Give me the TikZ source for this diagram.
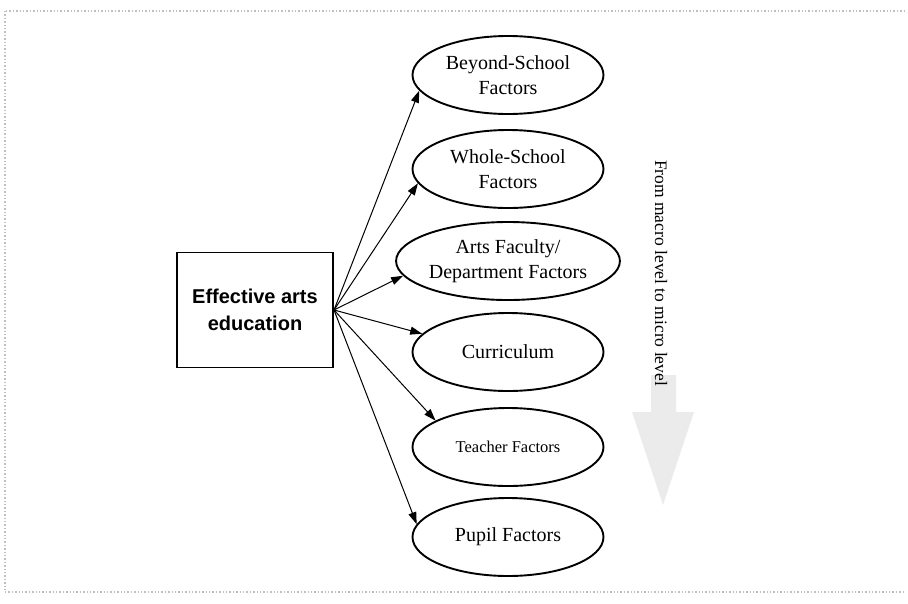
\documentclass[tikz,border=0pt]{standalone}
\usepackage{fontspec}
\setmainfont{Liberation Serif}
\newfontfamily\boxfont{Liberation Sans}
\usetikzlibrary{shapes.geometric,arrows.meta}
\tikzset{
  factor/.style={ellipse,draw,line width=1.9pt,minimum width=191pt,minimum height=78pt,inner sep=0pt,align=center,font=\fontsize{20}{25}\selectfont},
  mainbox/.style={rectangle,draw,line width=1.9pt,minimum width=156pt,minimum height=115pt,inner sep=0pt,align=center,font=\boxfont\bfseries\fontsize{20}{27}\selectfont},
  link/.style={line width=1pt,-{Triangle[length=12pt,width=8pt]}},
}
\begin{document}
\begin{tikzpicture}[x=1pt,y=-1pt]
\useasboundingbox (0,0) rectangle (908,603);
\draw[gray!50,line width=1.4pt,dotted] (6,11) -- (905,11);
\draw[gray!50,line width=1.4pt,dotted] (5,11) -- (5,592);
\draw[gray!50,line width=1.4pt,dotted] (5,592) -- (905,592);
% faint down arrow
\fill[gray!16] (651,375) -- (676,375) -- (676,412) -- (694,412) -- (663,505) -- (632,412) -- (651,412) -- cycle;
\node[mainbox] (main) at (255,310) {Effective arts\\education};
\node[factor] (e1) at (508,75) {Beyond-School\\Factors};
\node[factor] (e2) at (508,169) {Whole-School\\Factors};
\node[factor] (e3) at (508,261) {Arts Faculty/\\Department Factors};
\node[factor] (e4) at (508,352) {Curriculum};
\node[factor,font=\fontsize{16.5}{22}\selectfont] (e5) at (508,447) {Teacher Factors};
\node[factor] (e6) at (508,537) {Pupil Factors};
\coordinate (src) at (334,310);
\draw[link] (src) -- (e1.190);
\draw[link] (src) -- (e2.189);
\draw[link] (src) -- (e3.188);
\draw[link] (src) -- (e4.168);
\draw[link] (src) -- (e5.160);
\draw[link] (src) -- (e6.172);
\node[rotate=-90,font=\fontsize{17.5}{20}\selectfont] (lbl) at (661,273) {From macro level to micro level};
\end{tikzpicture}
\end{document}
